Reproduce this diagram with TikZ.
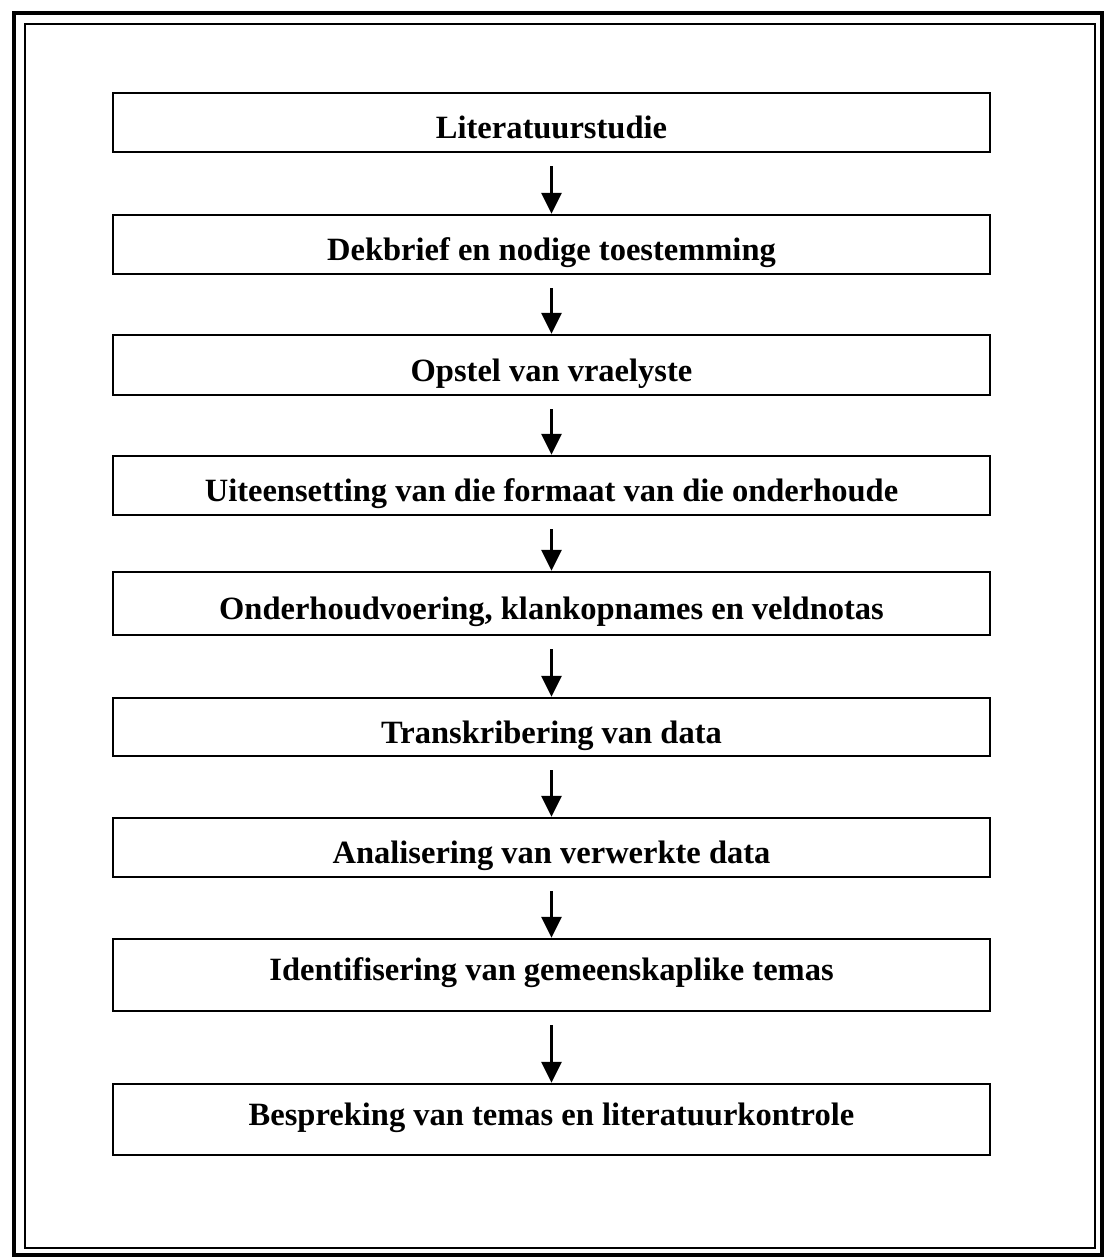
\documentclass[tikz,border=0pt]{standalone}
\usepackage{fontspec}
\setmainfont{Liberation Serif}
\usetikzlibrary{arrows.meta, positioning}

\begin{document}
\begin{tikzpicture}[x=0.02cm, y=-0.02cm,
    stap/.style={draw, line width=1.4pt, minimum width=17.54cm, inner sep=0pt,
        text height=0.7cm, text depth=0.06cm,
        font=\fontsize{18.5}{22}\selectfont\bfseries},
    hoog/.style={text height=0.5cm, text depth=0.28cm},
    pyl/.style={line width=1.6pt, -{Triangle[width=0.4cm, length=0.42cm]}, shorten <=0.26cm}]
    \useasboundingbox (0,0) rectangle (1104,1257);

    % double frame round the whole figure
    \draw[line width=1.9pt] (14,13) rectangle (1102,1255);
    \draw[line width=1.2pt] (25,24) rectangle (1095,1248);

    \node[stap, minimum height=1.18cm] (lit) at (551.5,122.5) {Literatuurstudie};
    \node[stap, minimum height=1.18cm] (dekbrief) at (551.5,244.5) {Dekbrief en nodige toestemming};
    \node[stap, minimum height=1.20cm] (opstel) at (551.5,365) {Opstel van vraelyste};
    \node[stap, minimum height=1.18cm] (formaat) at (551.5,485.5) {Uiteensetting van die formaat van die onderhoude};
    \node[stap, minimum height=1.26cm] (onderhoud) at (551.5,603.5) {Onderhoudvoering, klankopnames en veldnotas};
    \node[stap, minimum height=1.16cm] (transkr) at (551.5,727) {Transkribering van data};
    \node[stap, minimum height=1.18cm] (analise) at (551.5,847.5) {Analisering van verwerkte data};
    \node[stap, hoog, minimum height=1.44cm] (temas) at (551.5,975) {Identifisering van gemeenskaplike temas};
    \node[stap, hoog, minimum height=1.42cm] (bespreking) at (551.5,1119.5) {Bespreking van temas en literatuurkontrole};

    \foreach \a/\b in {lit/dekbrief, dekbrief/opstel, opstel/formaat, formaat/onderhoud,
        onderhoud/transkr, transkr/analise, analise/temas, temas/bespreking}
        \draw[pyl] (\a.south) -- (\b.north);
\end{tikzpicture}
\end{document}
